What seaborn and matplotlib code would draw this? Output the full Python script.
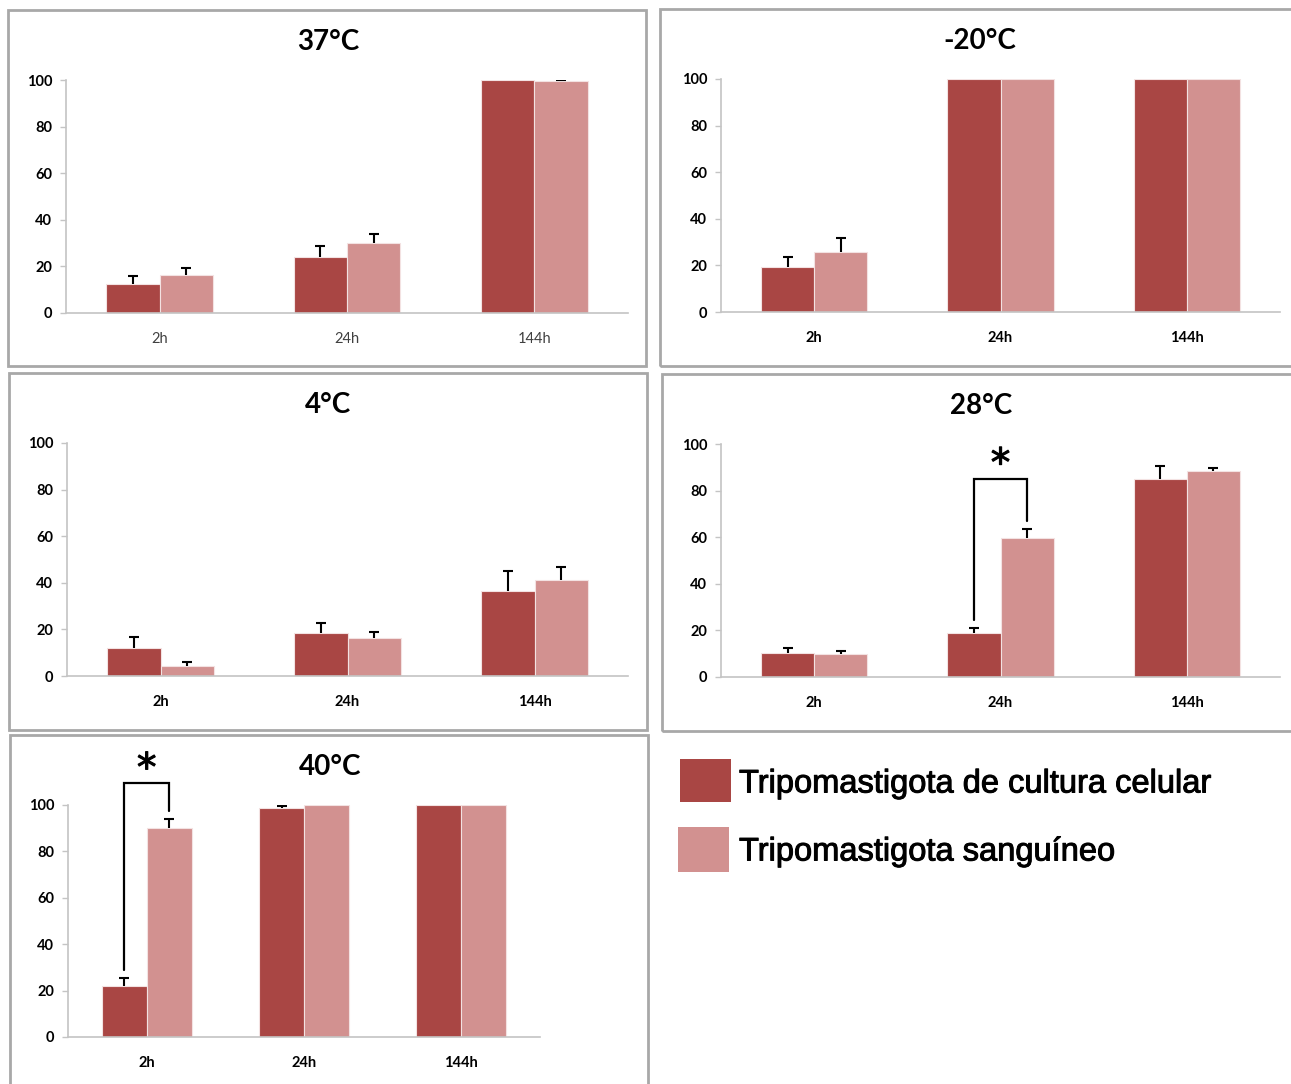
import matplotlib
matplotlib.use("Agg")
import matplotlib.pyplot as plt
import matplotlib.patheffects as pe
from matplotlib.patches import Rectangle
import pandas as pd
import seaborn as sns

# ---- data -------------------------------------------------------------
times = ["2h", "24h", "144h"]
series = ["Tripomastigota de cultura celular", "Tripomastigota sanguíneo"]
temperatures = ["37°C", "-20°C", "4°C", "28°C", "40°C"]

cultura_37 = [12.5, 24.1, 100.0]
cultura_37_err = [3.5, 4.6, 0.0]
sangue_37 = [16.2, 30.1, 99.6]
sangue_37_err = [3.1, 4.0, 0.4]

cultura_m20 = [19.2, 100.0, 100.0]
cultura_m20_err = [4.3, 0.0, 0.0]
sangue_m20 = [25.9, 100.0, 100.0]
sangue_m20_err = [6.0, 0.0, 0.0]

cultura_4 = [11.9, 18.3, 36.6]
cultura_4_err = [4.7, 4.3, 8.3]
sangue_4 = [4.4, 16.4, 41.0]
sangue_4_err = [1.6, 2.5, 5.6]

cultura_28 = [10.1, 18.7, 85.1]
cultura_28_err = [2.5, 2.2, 5.3]
sangue_28 = [9.9, 59.7, 88.3]
sangue_28_err = [1.1, 3.9, 1.4]

cultura_40 = [21.9, 98.9, 100.0]
cultura_40_err = [3.6, 0.7, 0.0]
sangue_40 = [90.0, 100.0, 100.0]
sangue_40_err = [3.8, 0.0, 0.0]

yticks = [0, 20, 40, 60, 80, 100]

# significant differences: (temperature, time index)
significance = {"28°C": 1, "40°C": 0}

# ---- style ------------------------------------------------------------
sns.set_style("white")
plt.rcParams["font.family"] = ["Lato", "DejaVu Sans"]
plt.rcParams["text.color"] = "black"
plt.rcParams["xtick.color"] = "black"
plt.rcParams["ytick.color"] = "black"

DARK = "#a94644"
LIGHT = "#d29190"
FRAME = "#a8a8a8"
AXIS = "#c4c4c4"

W, H = 1291, 1084
fig = plt.figure(figsize=(W / 100, H / 100), dpi=100)


def fig_rect(left, right, top, bottom):
    return [left / W, 1 - bottom / H, (right - left) / W, (bottom - top) / H]


panels = [
    dict(temp="37°C", c=cultura_37, ce=cultura_37_err, s=sangue_37, se=sangue_37_err,
         frame=(8, 646, 10, 366), axes=(66, 628, 80, 313), title=(328, 42), bold_x=False),
    dict(temp="-20°C", c=cultura_m20, ce=cultura_m20_err, s=sangue_m20, se=sangue_m20_err,
         frame=(660, 1300, 9, 366), axes=(721, 1280, 79, 312), title=(980, 41), bold_x=True),
    dict(temp="4°C", c=cultura_4, ce=cultura_4_err, s=sangue_4, se=sangue_4_err,
         frame=(9, 647, 373, 730), axes=(67, 628, 443, 676), title=(328, 405), bold_x=True),
    dict(temp="28°C", c=cultura_28, ce=cultura_28_err, s=sangue_28, se=sangue_28_err,
         frame=(662, 1300, 374, 731), axes=(721, 1280, 444, 677), title=(981, 406), bold_x=True),
    dict(temp="40°C", c=cultura_40, ce=cultura_40_err, s=sangue_40, se=sangue_40_err,
         frame=(10, 648, 735, 1100), axes=(68, 540, 805, 1037), title=(330, 767), bold_x=True),
]

for p in panels:
    fl, fr, ft, fb = p["frame"]
    fig.patches.append(Rectangle((fl / W, 1 - fb / H), (fr - fl) / W, (fb - ft) / H,
                                 transform=fig.transFigure, fill=False,
                                 edgecolor=FRAME, linewidth=2.0, zorder=0))

    ax = fig.add_axes(fig_rect(p["axes"][0], p["axes"][1], p["axes"][2], p["axes"][3]))
    df = pd.DataFrame({
        "time": times * 2,
        "serie": [series[0]] * 3 + [series[1]] * 3,
        "value": list(p["c"]) + list(p["s"]),
    })
    sns.barplot(data=df, x="time", y="value", hue="serie", order=times, hue_order=series,
                palette=[DARK, LIGHT], width=0.57, saturation=1, errorbar=None,
                legend=False, ax=ax, linewidth=0.8, edgecolor="#f3e2e2")

    # upward-only error bars on each bar
    bars = sorted([b for b in ax.patches if b.get_height() > 0], key=lambda b: b.get_x())
    errs = [e for pair in zip(p["ce"], p["se"]) for e in pair]
    for b, e in zip(bars, errs):
        if e <= 0:
            continue
        xc = b.get_x() + b.get_width() / 2
        h = b.get_height()
        ax.vlines(xc, h, h + e, colors="black", linewidth=1.5, zorder=3)
        ax.plot([xc], [h + e], marker="_", markersize=7, markeredgewidth=1.5,
                color="black", zorder=3)

    # significance bracket
    if p["temp"] in significance:
        i = significance[p["temp"]]
        b_left, b_right = bars[2 * i], bars[2 * i + 1]
        x1 = b_left.get_x() + b_left.get_width() / 2
        x2 = b_right.get_x() + b_right.get_width() / 2
        y1 = b_left.get_height() + errs[2 * i] + 3.5
        y2 = b_right.get_height() + errs[2 * i + 1] + 3.5
        top = max(y1, y2) + 12 if p["temp"] == "40°C" else max(y1, y2) + 18
        ax.plot([x1, x1, x2, x2], [y1, top, top, y2], color="black", lw=1.6,
                clip_on=False, zorder=4, solid_joinstyle="miter")
        ax.text((x1 + x2) / 2, top + 6, "*", ha="center", va="center", fontsize=28,
                family="DejaVu Sans", clip_on=False,
                path_effects=[pe.withStroke(linewidth=0.8, foreground="black")])

    ax.set_ylim(0, 100)
    ax.set_xlim(-0.5, 2.5)
    ax.set_yticks(yticks)
    ax.set_yticklabels([str(t) for t in yticks], fontsize=10.5, fontweight="bold")
    ax.set_xticks(range(len(times)))
    ax.set_xticklabels(times, fontsize=10.5,
                       fontweight="bold" if p["bold_x"] else "normal",
                       color="black" if p["bold_x"] else "#404040")
    ax.set_xticks([-0.5, 0.5, 1.5, 2.5], minor=True)
    ax.tick_params(axis="x", which="major", length=0, pad=14)
    ax.tick_params(axis="x", which="minor", length=6, color=AXIS, width=1, direction="out")
    ax.tick_params(axis="y", length=4, color=AXIS, width=1, direction="out", pad=6, left=True)
    ax.set_xlabel("")
    ax.set_ylabel("")
    for side in ("top", "right"):
        ax.spines[side].set_visible(False)
    for side in ("left", "bottom"):
        ax.spines[side].set_color(AXIS)
        ax.spines[side].set_linewidth(1.2)
    ax.set_facecolor("none")

    fig.text(p["title"][0] / W, 1 - p["title"][1] / H, p["temp"], ha="center", va="center",
             fontsize=20, fontweight="bold", color="black")

# ---- legend -----------------------------------------------------------
legend_items = [(series[0], DARK, 680, 759, 51, 43, 784),
                (series[1], LIGHT, 678, 827, 51, 45, 852)]
for label, color, lx, ly, lw_, lh, ty in legend_items:
    fig.patches.append(Rectangle((lx / W, 1 - (ly + lh) / H), lw_ / W, lh / H,
                                 transform=fig.transFigure, facecolor=color,
                                 edgecolor="none"))
    fig.text(739 / W, 1 - ty / H, label, ha="left", va="center", fontsize=23.5,
             family=["Liberation Sans", "DejaVu Sans"], color="black",
             path_effects=[pe.withStroke(linewidth=0.7, foreground="black")])

fig.savefig("out.png", dpi=100, facecolor="white")
